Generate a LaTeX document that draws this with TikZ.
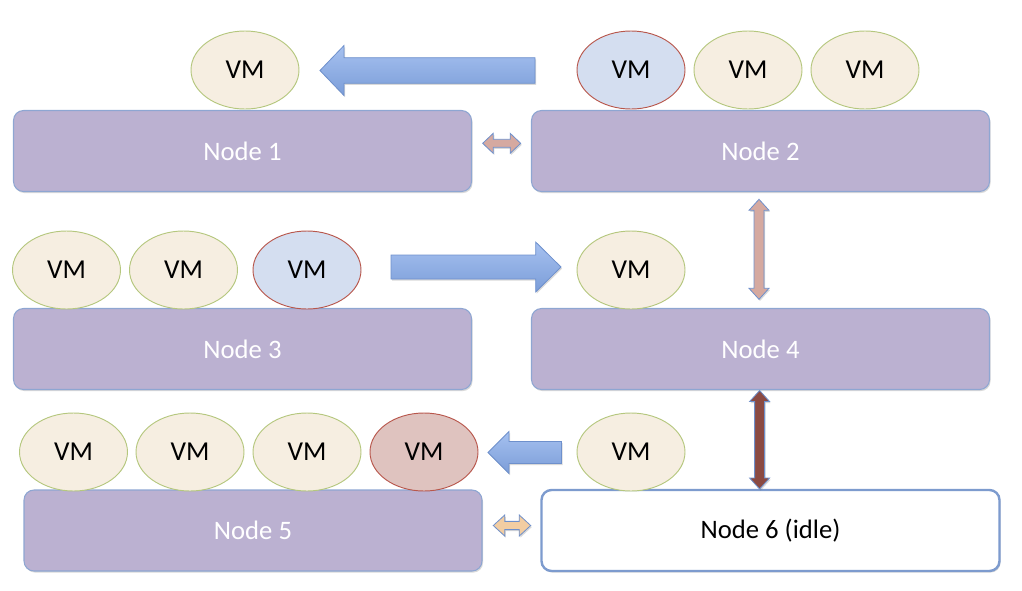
\documentclass[tikz,border=0pt]{standalone}
\usepackage{fontspec}
\setmainfont{Carlito}
\usetikzlibrary{calc,shapes.geometric,shadows}
\definecolor{boxfill}{HTML}{BBB1D1}
\definecolor{boxline}{HTML}{8EA6D2}
\definecolor{vmfill}{HTML}{F6EEE1}
\definecolor{vmline}{HTML}{B5C77E}
\definecolor{bluevm}{HTML}{D4DEF0}
\definecolor{redline}{HTML}{B8574C}
\definecolor{redvm}{HTML}{DFC3BF}
\definecolor{arrtop}{HTML}{A6C1F0}
\definecolor{arrbot}{HTML}{7B9DD8}
\definecolor{arrline}{HTML}{6E90CC}
\definecolor{pinkarr}{HTML}{D5A9A0}
\definecolor{darkarr}{HTML}{8B4A42}
\definecolor{orangearr}{HTML}{F2CDA2}
\definecolor{idleline}{HTML}{7D9BCE}
\tikzset{
  softshadow/.style={drop shadow={shadow xshift=0.8pt, shadow yshift=-1.2pt, opacity=0.25, fill=black!60}},
  host/.style={draw=boxline, line width=0.8pt, fill=boxfill, rounded corners=7.5pt,
    minimum width=343.5pt, minimum height=60.75pt, text=white,
    font=\fontsize{20}{24}\selectfont, softshadow},
  idlehost/.style={host, fill=white, draw=idleline, line width=1.8pt, text=black},
  vm/.style={ellipse, draw=vmline, fill=vmfill, line width=0.7pt, minimum width=81pt,
    minimum height=58.5pt, inner sep=0pt, font=\fontsize{20.5}{24}\selectfont},
  vmmig/.style={vm, fill=bluevm, draw=redline},
  vmred/.style={vm, fill=redvm, draw=redline},
  fatarr/.style={draw=arrline, line width=0.6pt, top color=arrtop, bottom color=arrbot, softshadow},
  linkarr/.style={draw=arrline, line width=0.6pt, fill=#1, softshadow},
}
% fat one-way arrow: from, to, half body, half head, head length
\newcommand\fatarrow[5]{%
  \coordinate (fh) at ($(#2)!#5!(#1)$);
  \draw[fatarr] ($(#1)!#3!90:(#2)$) -- ($(fh)!#3!90:(#2)$) -- ($(fh)!#4!90:(#2)$)
    -- (#2) -- ($(fh)!#4!-90:(#2)$) -- ($(fh)!#3!-90:(#2)$) -- ($(#1)!#3!-90:(#2)$) -- cycle;
}
% two-way link arrow: colour, from, to, half body, half head, head length
\newcommand\linkarrow[6]{%
  \coordinate (la) at ($(#2)!#6!(#3)$);
  \coordinate (lb) at ($(#3)!#6!(#2)$);
  \draw[linkarr=#1] (#2) -- ($(la)!#5!90:(#3)$) -- ($(la)!#4!90:(#3)$)
    -- ($(lb)!#4!-90:(#2)$) -- ($(lb)!#5!-90:(#2)$) -- (#3)
    -- ($(lb)!#5!90:(#2)$) -- ($(lb)!#4!90:(#2)$)
    -- ($(la)!#4!-90:(#3)$) -- ($(la)!#5!-90:(#3)$) -- cycle;
}
\begin{document}
\begin{tikzpicture}[x=0.75pt, y=-0.75pt]
\useasboundingbox (0,0) rectangle (1022,590);
% hosts
\node[host] (n1) at (242.5,151) {Node 1};
\node[host] (n2) at (760.5,151) {Node 2};
\node[host] (n3) at (242.5,349) {Node 3};
\node[host] (n4) at (760.5,349) {Node 4};
\node[host] (n5) at (253,530.5) {Node 5};
\node[idlehost] (n6) at (770.5,530.5) {Node 6 (idle)};
% VMs row 1
\node[vm] (v1a) at (245,70) {VM};
\node[vmmig] (v2a) at (631,70) {VM};
\node[vm] (v2b) at (748,70) {VM};
\node[vm] (v2c) at (865,70) {VM};
% VMs row 2
\node[vm] (v3a) at (66.5,270) {VM};
\node[vm] (v3b) at (183.5,270) {VM};
\node[vmmig] (v3c) at (307,270) {VM};
\node[vm] (v4a) at (631,270) {VM};
% VMs row 3
\node[vm] (v5a) at (73.5,452) {VM};
\node[vm] (v5b) at (190,452) {VM};
\node[vm] (v5c) at (307,452) {VM};
\node[vmred] (v5d) at (424,452) {VM};
\node[vm] (v6a) at (631,452) {VM};
% migration arrows
\coordinate (m1s) at (535,70.5);
\coordinate (m1e) at (320,70.5);
\fatarrow{m1s}{m1e}{9.6pt}{18.75pt}{18pt}
\coordinate (m2s) at (391,267);
\coordinate (m2e) at (561,267);
\fatarrow{m2s}{m2e}{9pt}{18.75pt}{19pt}
\coordinate (m3s) at (561.5,452.5);
\coordinate (m3e) at (488,452.5);
\fatarrow{m3s}{m3e}{8.25pt}{15.75pt}{15.75pt}
% links between hosts
\coordinate (l12a) at (482.7,143.3);
\coordinate (l12b) at (520.7,143.3);
\linkarrow{pinkarr}{l12a}{l12b}{3pt}{7.5pt}{7.9pt}
\coordinate (l24a) at (759,199.3);
\coordinate (l24b) at (759,299.3);
\linkarrow{pinkarr}{l24a}{l24b}{3.75pt}{7.5pt}{8.25pt}
\coordinate (l46a) at (759.6,390.5);
\coordinate (l46b) at (759.6,489);
\linkarrow{darkarr}{l46a}{l46b}{3.75pt}{7.5pt}{8.25pt}
\coordinate (l56a) at (493.3,525.5);
\coordinate (l56b) at (530.7,525.5);
\linkarrow{orangearr}{l56a}{l56b}{3.1pt}{7.9pt}{8.6pt}
\end{tikzpicture}
\end{document}
